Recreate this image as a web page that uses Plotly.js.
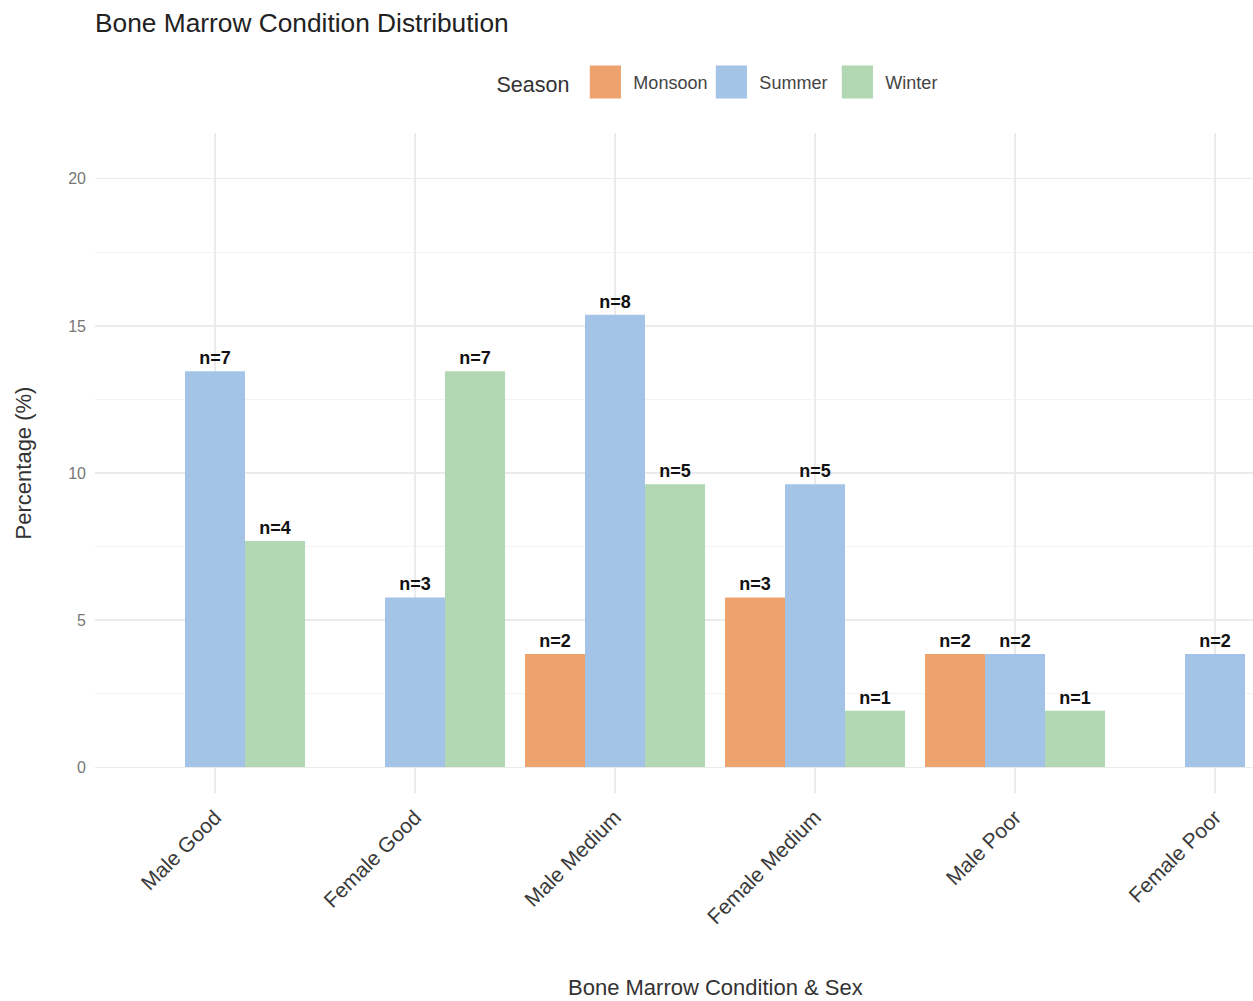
<!DOCTYPE html>
<html>
<head>
<meta charset="utf-8">
<script src="https://cdn.plot.ly/plotly-3.0.1.min.js"></script>
<style>html,body{margin:0;padding:0;background:#fff;}#chart{width:1253px;height:1001px;}</style>
</head>
<body>
<div id="chart"></div>
<script>
const categories = ["Male Good", "Female Good", "Male Medium", "Female Medium", "Male Poor", "Female Poor"];
const seasons = ["Monsoon", "Summer", "Winter"];
const monsoonPct = [null, null, 3.85, 5.77, 3.85, null];
const summerPct = [13.46, 5.77, 15.38, 9.62, 3.85, 3.85];
const winterPct = [7.69, 13.46, 9.62, 1.92, 1.92, null];
const monsoonN = [null, null, 2, 3, 2, null];
const summerN = [7, 3, 8, 5, 2, 2];
const winterN = [4, 7, 5, 1, 1, null];
const yTicks = [0, 5, 10, 15, 20];

const colors = {Monsoon: "#EEA36F", Summer: "#A4C4E7", Winter: "#B1D8B2"};
const FONT = "Liberation Sans, Arial, Helvetica, sans-serif";

function mk(name, vals, ns) {
  return {
    type: "bar", name: name, x: categories, y: vals,
    marker: {color: colors[name], line: {width: 0}},
    text: ns.map(n => n == null ? "" : "n=" + n),
    textposition: "outside",
    textfont: {family: FONT, size: 18, color: "#111", weight: 700},
    constraintext: "none",
    cliponaxis: false,
    hoverinfo: "x+y+name"
  };
}

const data = [
  mk("Monsoon", monsoonPct, monsoonN),
  mk("Summer", summerPct, summerN),
  mk("Winter", winterPct, winterN)
];

const layout = {
  width: 1253, height: 1001,
  margin: {l: 95, r: 0, t: 133, b: 208, pad: 0},
  paper_bgcolor: "#fff", plot_bgcolor: "#fff",
  font: {family: FONT, color: "#333"},
  barmode: "group", bargap: 0.1, bargroupgap: 0,
  title: {text: "Bone Marrow Condition Distribution", x: 95/1253, xref: "container", xanchor: "left",
          y: 1 - 23/1001, yref: "container", yanchor: "middle",
          font: {family: FONT, size: 26.3, color: "#222"}},
  showlegend: true,
  legend: {orientation: "h", x: 0.544, xanchor: "center", y: 1.076, yanchor: "middle",
           title: {text: "Season", side: "left", font: {family: FONT, size: 21.5, color: "#333"}},
           font: {family: FONT, size: 18, color: "#444"}, itemwidth: 46, entrywidth: 65,
           traceorder: "normal"},
  xaxis: {
    type: "category", categoryorder: "array", categoryarray: categories,
    range: [-0.6, 5.19], fixedrange: true,
    showgrid: true, gridcolor: "#ebebeb", gridwidth: 1.2,
    zeroline: false, showline: false, ticks: "",
    ticklabelstandoff: 7,
    tickangle: -45, tickfont: {family: FONT, size: 21, color: "#3a3a3a"},
    title: {text: ""}
  },
  yaxis: {
    range: [-0.88, 21.56], fixedrange: true,
    tickvals: yTicks, ticktext: yTicks.map(String),
    showgrid: true, gridcolor: "#ebebeb", gridwidth: 1.2,
    minor: {dtick: 2.5, tick0: 0, showgrid: true, gridcolor: "#f3f3f3", gridwidth: 1, ticks: ""},
    zeroline: false, showline: false, ticks: "",
    ticklabelstandoff: 8,
    tickfont: {family: FONT, size: 16, color: "#777"},
    title: {text: "Percentage (%)", standoff: 30, font: {family: FONT, size: 22, color: "#333"}}
  },
  annotations: [{
    text: "Bone Marrow Condition & Sex", xref: "x", x: 2.5, yref: "paper", y: -(987 - 793) / 660,
    yanchor: "middle", xanchor: "center", showarrow: false,
    font: {family: FONT, size: 22, color: "#333"}
  }]
};

function enlargeLegendSwatches(gd) {
  gd.querySelectorAll(".legend .legendpoints path").forEach(p => {
    const t = p.getAttribute("transform") || "";
    if (t.indexOf("scale") < 0) p.setAttribute("transform", t + " scale(2.6,2.75)");
  });
}

Plotly.newPlot("chart", data, layout, {displayModeBar: false, staticPlot: true}).then(gd => {
  enlargeLegendSwatches(gd);
});
</script>
</body>
</html>
